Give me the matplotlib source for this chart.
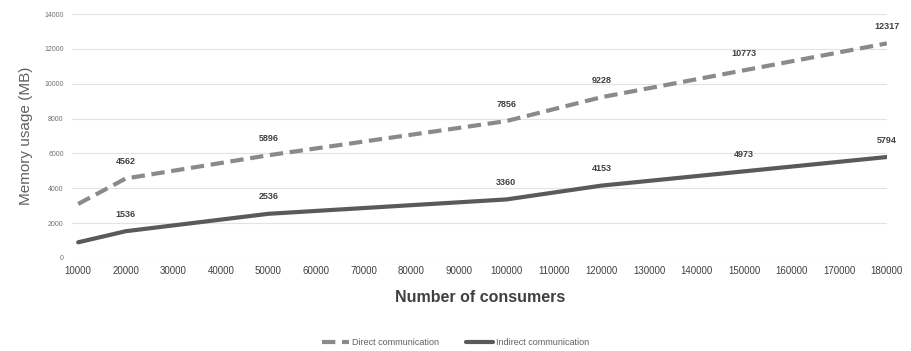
import matplotlib
matplotlib.use("Agg")
import matplotlib.pyplot as plt

plt.rcParams['font.family'] = ['Liberation Sans Narrow', 'Liberation Sans', 'DejaVu Sans']

# data
consumers = [10000, 20000, 50000, 100000, 120000, 150000, 180000]
direct = [3100, 4562, 5896, 7856, 9228, 10773, 12317]
indirect = [900, 1536, 2536, 3360, 4153, 4973, 5794]
labelled = [False, True, True, True, True, True, True]
xticks = list(range(10000, 180001, 10000))
yticks = list(range(0, 14001, 2000))

fig = plt.figure(figsize=(9.11, 3.51), dpi=100)
ax = fig.add_axes([0.079, 0.265, 0.895, 0.695])

ax.plot(consumers, direct, color='#8a8a8a', linewidth=3, dashes=(3.2, 1.6),
        solid_capstyle='butt', dash_capstyle='butt', label='Direct communication')
ax.plot(consumers, indirect, color='#5a5a5a', linewidth=3,
        solid_capstyle='round', label='Indirect communication')

for x, d, i, show in zip(consumers, direct, indirect, labelled):
    if not show:
        continue
    ax.annotate(str(d), (x, d), xytext=(0, 9), textcoords='offset points',
                ha='center', va='bottom', fontsize=6.5, fontweight='bold', color='#404040')
    ax.annotate(str(i), (x, i), xytext=(0, 9), textcoords='offset points',
                ha='center', va='bottom', fontsize=6.5, fontweight='bold', color='#404040')

ax.set_xlim(8700, 180100)
ax.set_ylim(0, 14000)
ax.set_xticks(xticks)
ax.set_xticklabels([str(v) for v in xticks], fontsize=7, color='#404040')
ax.set_yticks(yticks)
ax.set_yticklabels([str(v) for v in yticks], fontsize=5, color='#707070')
ax.tick_params(length=0, pad=6)
ax.grid(axis='y', color='#e3e3e3', linewidth=0.8)
ax.set_axisbelow(True)
for s in ax.spines.values():
    s.set_visible(False)

ax.set_ylabel('Memory usage (MB)', fontsize=11, color='#606060', labelpad=8)
ax.set_xlabel('Number of consumers', fontsize=11.5, fontweight='bold', color='#404040', labelpad=10)

fig.legend(loc='center', bbox_to_anchor=(0.5, 0.025), ncol=2, frameon=False,
           fontsize=6.5, labelcolor='#606060', handlelength=3, columnspacing=3, handletextpad=0.3)

fig.savefig('out.png', dpi=100)
